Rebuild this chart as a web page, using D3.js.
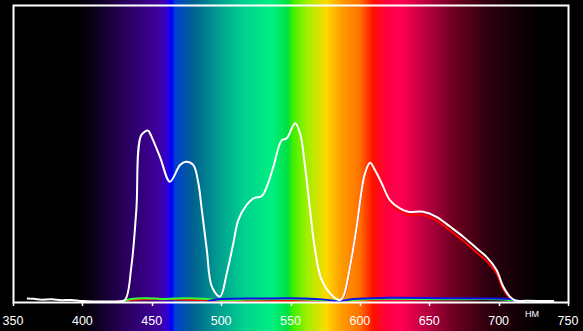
<!DOCTYPE html>
<html>
<head>
<meta charset="utf-8">
<script src="https://cdn.jsdelivr.net/npm/d3@7"></script>
<style>
  html, body { margin: 0; padding: 0; background: #000; }
  svg { display: block; }
</style>
</head>
<body>
<div id="svg"></div>
<script>
// Axis ticks (nm)
var tickValues = [350, 400, 450, 500, 550, 600, 650, 700, 750];
var unitLabel = "НМ";

// Background spectrum colours, [nm, colour]
var spectrumStops = [
    [350, "#000000"], [396, "#000000"], [408, "#0a0018"], [432, "#2a0060"],
    [456, "#4000a0"], [461, "#3000d0"], [464.6, "#0000ff"], [466.8, "#0040d0"],
    [479.7, "#006090"], [499, "#00a090"], [516, "#00d090"], [537, "#00f080"],
    [548, "#00e040"], [552, "#40f000"], [562, "#a0f000"], [576, "#ffd800"],
    [586, "#ffa000"], [600, "#ff7000"], [609.5, "#ff1000"], [619.5, "#ff0040"],
    [629, "#ff0050"], [638, "#e00048"], [650, "#b00040"], [667, "#700020"],
    [691.6, "#300010"], [715, "#100005"], [730, "#000000"], [750, "#000000"]
];

// Measured spectrum, [nm, relative intensity]
var whiteCurve = [
    [360, 0.012], [365, 0.011], [370, 0.008], [378, 0.009], [385, 0.006], [392, 0.007],
    [400, 0.003], [410, 0.002], [425, 0.002], [430.7, 0.007], [435.3, 0.119],
    [438.9, 0.310], [442.5, 0.562], [447.4, 0.577], [448.7, 0.568], [455.9, 0.489],
    [463.1, 0.405], [470.4, 0.461], [474.7, 0.472], [480, 0.461], [483.6, 0.400],
    [486.1, 0.310], [489.7, 0.175], [493.3, 0.052], [499.2, 0.018], [504.1, 0.097],
    [508.8, 0.198], [512.4, 0.276], [518.4, 0.327], [523.3, 0.349], [529.3, 0.357],
    [532.9, 0.388], [537.7, 0.456], [543.7, 0.545], [547.3, 0.551], [553.3, 0.602],
    [556.9, 0.568], [560.5, 0.456], [564.1, 0.310], [567.7, 0.175], [572.5, 0.074],
    [580.9, 0.018], [585.7, 0.007], [588.1, 0.018], [592.9, 0.119], [597.7, 0.254],
    [601.3, 0.377], [603.7, 0.433], [607.3, 0.469], [610.9, 0.444], [615.7, 0.400],
    [621.6, 0.343], [628.8, 0.315], [634.8, 0.304], [645.6, 0.304], [655.2, 0.287],
    [664.9, 0.254], [674.5, 0.220], [684.1, 0.181], [691.3, 0.152], [698.5, 0.108],
    [703.3, 0.052], [708.1, 0.018], [712, 0.005], [720, 0.004], [740, 0.003]
];

var redCurve = [
    [430, 0.004], [450, 0.010], [470, 0.008], [500, 0.004], [560, 0.004], [585, 0.004],
    [588.1, 0.014], [592.9, 0.115], [597.7, 0.250], [601.3, 0.372], [603.7, 0.430],
    [607.3, 0.466], [610.9, 0.440], [615.7, 0.395], [621.6, 0.336], [628.8, 0.306],
    [634.8, 0.294], [645.6, 0.293], [655.2, 0.275], [664.9, 0.241], [674.5, 0.206],
    [684.1, 0.167], [691.3, 0.138], [698.5, 0.096], [703.3, 0.044], [708, 0.014],
    [712, 0.004]
];

var greenCurve = [
    [430, 0.004], [435, 0.010], [445, 0.013], [460, 0.010], [475, 0.013], [490, 0.010],
    [500, 0.006], [520, 0.008], [550, 0.010], [570, 0.006], [585, 0.003], [600, 0.008],
    [620, 0.011], [660, 0.009], [700, 0.009], [712, 0.004]
];

var blueCurve = [
    [490, 0.003], [500, 0.010], [530, 0.012], [560, 0.012], [575, 0.008], [585, 0.002],
    [595, 0.010], [620, 0.014], [660, 0.013], [690, 0.012], [708, 0.010], [714, 0.004]
];

var width = 583;
var height = 331;

var svg = d3.select("#svg").append("svg")
    .attr("width", width)
    .attr("height", height);

var x = d3.scaleLinear().domain([350, 750]).range([13, 568]);
var y = d3.scaleLinear().domain([0, 1]).range([302, 5]);

// Spectrum gradient across the whole picture
var grad = svg.append("defs").append("linearGradient")
    .attr("id", "spectrum")
    .attr("gradientUnits", "userSpaceOnUse")
    .attr("x1", 0).attr("x2", width)
    .attr("y1", 0).attr("y2", 0);

grad.selectAll("stop")
    .data(spectrumStops)
    .enter().append("stop")
    .attr("offset", function(d) { return x(d[0]) / width; })
    .attr("stop-color", function(d) { return d[1]; });

svg.append("rect")
    .attr("width", width)
    .attr("height", height)
    .attr("fill", "url(#spectrum)");

// Curves
var line = d3.line()
    .curve(d3.curveCatmullRom.alpha(0.5))
    .x(function(d) { return x(d[0]); })
    .y(function(d) { return y(d[1]); });

var series = [
    { data: redCurve, color: "#ff0000" },
    { data: greenCurve, color: "#30ff30" },
    { data: blueCurve, color: "#1010e8" },
    { data: whiteCurve, color: "#ffffff" }
];

svg.selectAll("path.curve")
    .data(series)
    .enter().append("path")
    .attr("class", "curve")
    .attr("d", function(d) { return line(d.data); })
    .attr("fill", "none")
    .attr("stroke", function(d) { return d.color; })
    .attr("stroke-width", 2)
    .attr("stroke-linejoin", "round");

// Frame
svg.append("rect")
    .attr("x", x(350) + 0.5)
    .attr("y", y(1) + 0.5)
    .attr("width", x(750) - x(350))
    .attr("height", y(0) - y(1))
    .attr("fill", "none")
    .attr("stroke", "#ffffff")
    .attr("stroke-width", 2);

// Ticks and labels
svg.selectAll("line.tick")
    .data(tickValues)
    .enter().append("line")
    .attr("class", "tick")
    .attr("x1", function(d) { return Math.round(x(d)) + 0.5; })
    .attr("x2", function(d) { return Math.round(x(d)) + 0.5; })
    .attr("y1", y(0))
    .attr("y2", y(0) + 4)
    .attr("stroke", "#ffffff")
    .attr("stroke-width", 1.5);

svg.selectAll("text.label")
    .data(tickValues)
    .enter().append("text")
    .attr("class", "label")
    .attr("x", function(d) { return x(d); })
    .attr("y", 325)
    .attr("text-anchor", "middle")
    .attr("fill", "#ffffff")
    .style("font-family", "'Liberation Sans', Arial, sans-serif")
    .style("font-size", "12.5px")
    .text(function(d) { return d; });

svg.append("text")
    .attr("x", x(724))
    .attr("y", 317)
    .attr("text-anchor", "middle")
    .attr("fill", "#ffffff")
    .style("font-family", "'Liberation Sans', Arial, sans-serif")
    .style("font-size", "9px")
    .text(unitLabel);
</script>
</body>
</html>
